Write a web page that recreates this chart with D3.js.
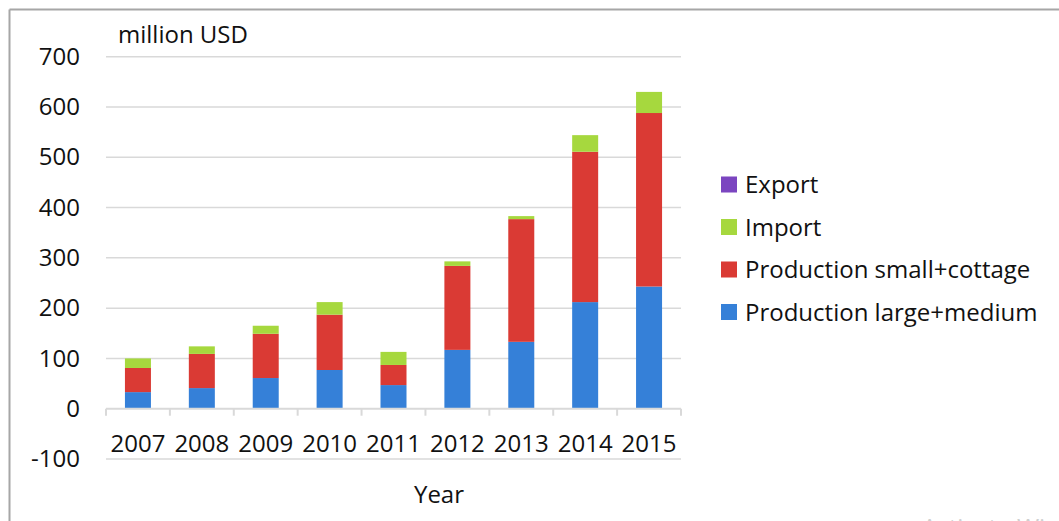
<!DOCTYPE html>
<html>
<head>
<meta charset="utf-8">
<script src="https://cdn.jsdelivr.net/npm/d3@7"></script>
<style>
html, body { margin: 0; padding: 0; background: #fff; overflow: hidden; }
svg { display: block; font-family: "Open Sans", "Noto Sans", sans-serif; }
</style>
</head>
<body>
<svg id="chart" width="1059" height="521"></svg>
<script>
const years = ["2007","2008","2009","2010","2011","2012","2013","2014","2015"];
const largeMedium = [33, 41, 61, 77, 47, 117, 133, 212, 243];
const smallCottage = [48, 68, 88, 110, 40, 167, 244, 299, 345];
const importVals = [19, 15, 16, 25, 26, 9, 6, 33, 42];
const exportVals = [0, 0, 0, 0, 0, 0, 0, 0, 0];
const yTicks = [-100, 0, 100, 200, 300, 400, 500, 600, 700];
const seriesNames = ["Production large+medium", "Production small+cottage", "Import", "Export"];
const seriesColors = ["#3580d8", "#da3a34", "#a6d83e", "#7b45c0"];

const FS = 24;
const svg = d3.select("#chart");

// outer frame (partial, as in screenshot)
svg.append("line").attr("x1", 9.5).attr("x2", 1059).attr("y1", 9.5).attr("y2", 9.5)
  .attr("stroke", "#a6a6a6").attr("stroke-width", 2);
svg.append("line").attr("x1", 9.5).attr("x2", 9.5).attr("y1", 9.5).attr("y2", 521)
  .attr("stroke", "#a6a6a6").attr("stroke-width", 2);

const x = d3.scaleBand().domain(years).range([106, 681]).paddingInner(0.593).paddingOuter(0.2965);
const y = d3.scaleLinear().domain([-100, 700]).range([459, 56.7]);

// gridlines
svg.append("g").selectAll("line").data(yTicks.filter(d => d !== 0)).join("line")
  .attr("x1", 106).attr("x2", 681)
  .attr("y1", d => y(d)).attr("y2", d => y(d))
  .attr("stroke", "#d9d9d9").attr("stroke-width", 1.5);

// y-axis labels
const yAxis = d3.axisLeft(y).tickValues(yTicks).tickSize(0).tickPadding(0).tickFormat(d => String(d));
const yg = svg.append("g").attr("transform", "translate(80,0)").call(yAxis);
yg.select(".domain").remove();
yg.selectAll("text").attr("font-size", FS).attr("fill", "#111").attr("font-family", "'Open Sans', sans-serif");

// stacked bars
const rows = years.map((yr, i) => ({ year: yr, large: largeMedium[i], small: smallCottage[i], imp: importVals[i], exp: exportVals[i] }));
const stack = d3.stack().keys(["large", "small", "imp", "exp"]);
const stacked = stack(rows);
svg.append("g").selectAll("g").data(stacked).join("g")
  .attr("fill", (d, i) => seriesColors[i])
  .selectAll("rect").data(d => d).join("rect")
  .attr("x", d => x(d.data.year))
  .attr("width", x.bandwidth())
  .attr("y", d => y(d[1]))
  .attr("height", d => Math.max(0, y(d[0]) - y(d[1])));

// x axis at zero
const xAxis = d3.axisBottom(x).tickSize(0).tickPadding(0);
const xg = svg.append("g").attr("transform", `translate(0,${y(0)})`).call(xAxis);
xg.select(".domain").attr("stroke", "#d9d9d9").attr("stroke-width", 2).attr("d", `M106,0H681`);
xg.selectAll(".tick text").attr("font-size", FS).attr("fill", "#111").attr("dy", 0).attr("y", 43.5)
  .attr("font-family", "'Open Sans', sans-serif");
// tick marks at category boundaries
const bounds = years.map(d => x(d) - x.step() * x.paddingInner() / 2).concat([681]);
bounds[0] = 106;
xg.append("g").selectAll("line").data(bounds).join("line")
  .attr("x1", d => d).attr("x2", d => d).attr("y1", 0).attr("y2", 7)
  .attr("stroke", "#d9d9d9").attr("stroke-width", 2);

// unit label
svg.append("text").attr("x", 118).attr("y", 43).attr("font-size", FS).attr("fill", "#111").text("million USD");

// x title
svg.append("text").attr("x", 439).attr("y", 503).attr("text-anchor", "middle").attr("font-size", FS).attr("fill", "#111").text("Year");

// legend
const legendOrder = [3, 2, 1, 0];
const lg = svg.append("g");
legendOrder.forEach((si, k) => {
  const yy = 184.5 + k * 42.5;
  lg.append("rect").attr("x", 721).attr("y", yy - 8).attr("width", 16).attr("height", 16).attr("fill", seriesColors[si]);
  lg.append("text").attr("x", 745).attr("y", yy + 8.5).attr("font-size", FS).attr("fill", "#111").text(seriesNames[si]);
});

// watermark remnant
svg.append("text").attr("x", 922).attr("y", 536).attr("font-size", 24).attr("fill", "#d0d0d0").text("Activate Windows");
</script>
</body>
</html>
